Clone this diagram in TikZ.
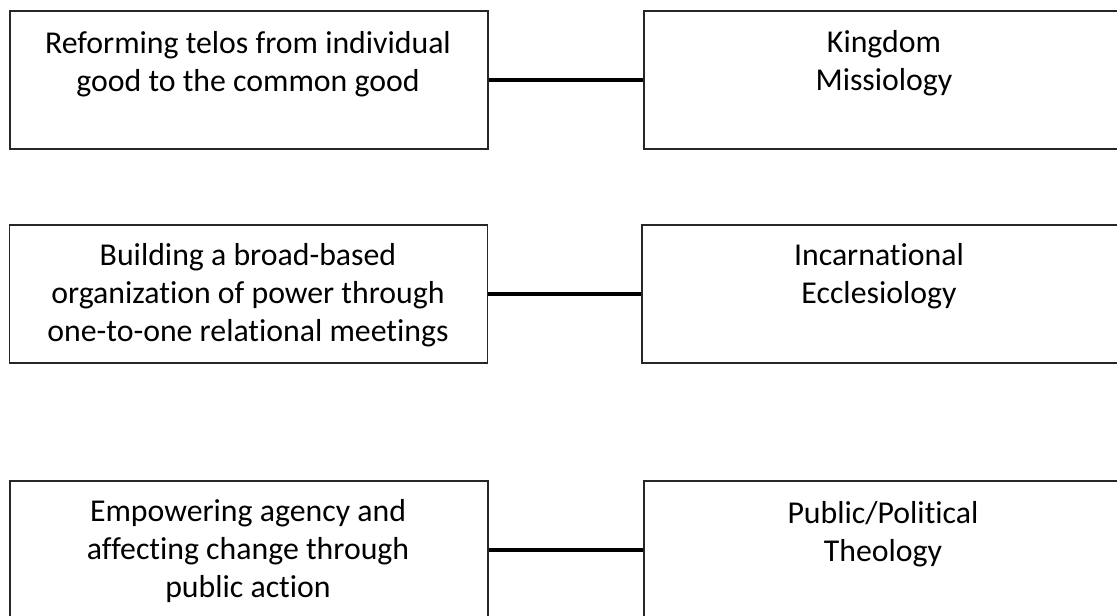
\documentclass[tikz,border=0pt]{standalone}
\usepackage{fontspec}
\setmainfont{Carlito}[Ligatures=NoCommon]
\begin{document}
\begin{tikzpicture}[x=1pt,y=-1pt,
  box/.style={draw=black!85,line width=1.3pt,rectangle,inner sep=0pt,minimum height=138pt},
  lbox/.style={box,minimum width=478pt},
  rbox/.style={box,minimum width=480pt},
  txt/.style={anchor=base,align=center,inner sep=0pt,font=\fontsize{31.8}{38}\selectfont},
  link/.style={line width=3.4pt,black}]
\useasboundingbox (0,0) rectangle (1117,616);
% row 1
\node[lbox] (l1) at (249,80) {};
\node[rbox] (r1) at (884,80) {};
\node[txt] (tl1) at (248,91) {Reforming telos from individual\\good to the common good};
\node[txt] (tr1) at (884,90) {Kingdom\\Missiology};
\draw[link] (l1.east) -- (r1.west);
% row 2
\node[lbox] (l2) at (248.5,294) {};
\node[rbox] (r2) at (882,294) {};
\node[txt] (tl2) at (248,341.5) {Building a broad-based\\organization of power through\\one-to-one relational meetings};
\node[txt] (tr2) at (879,303) {Incarnational\\Ecclesiology};
\draw[link] (l2.east) -- (r2.west);
% row 3
\node[lbox] (l3) at (249,550) {};
\node[rbox] (r3) at (884,550) {};
\node[txt] (tl3) at (248,597) {Empowering agency and\\affecting change through\\public action};
\node[txt] (tr3) at (883,561) {Public/Political\\Theology};
\draw[link] (l3.east) -- (r3.west);
\end{tikzpicture}
\end{document}
